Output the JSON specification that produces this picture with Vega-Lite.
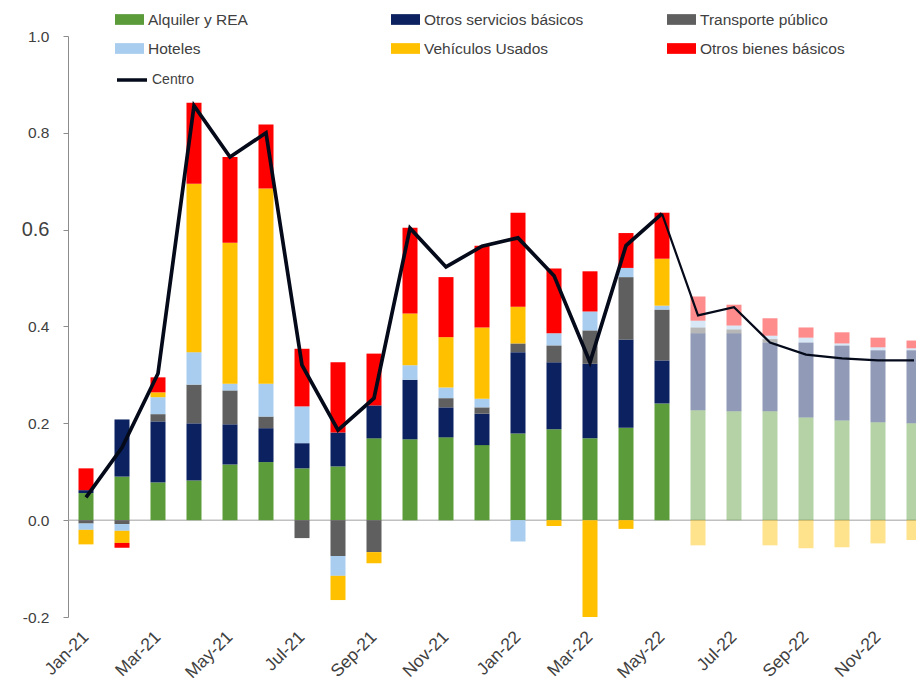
{
  "$schema": "https://vega.github.io/schema/vega-lite/v6.json",
  "width": 848,
  "height": 581,
  "autosize": {"type": "none"},
  "padding": {"left": 68, "top": 36, "right": 0, "bottom": 71},
  "background": "white",
  "config": {"view": {"stroke": null}, "font": "Liberation Sans"},
  "datasets": {
    "orden": [
      {"componente": "Alquiler y REA", "orden": 1},
      {"componente": "Otros servicios básicos", "orden": 2},
      {"componente": "Transporte público", "orden": 3},
      {"componente": "Hoteles", "orden": 4},
      {"componente": "Vehículos Usados", "orden": 5},
      {"componente": "Otros bienes básicos", "orden": 6}
    ],
    "barras": [
      {"mes": "Jan-21", "componente": "Alquiler y REA", "valor": 0.056, "tipo": "Observado"},
      {"mes": "Jan-21", "componente": "Otros servicios básicos", "valor": 0.006, "tipo": "Observado"},
      {"mes": "Jan-21", "componente": "Otros bienes básicos", "valor": 0.045, "tipo": "Observado"},
      {"mes": "Jan-21", "componente": "Transporte público", "valor": -0.007, "tipo": "Observado"},
      {"mes": "Jan-21", "componente": "Hoteles", "valor": -0.013, "tipo": "Observado"},
      {"mes": "Jan-21", "componente": "Vehículos Usados", "valor": -0.03, "tipo": "Observado"},
      {"mes": "Feb-21", "componente": "Alquiler y REA", "valor": 0.09, "tipo": "Observado"},
      {"mes": "Feb-21", "componente": "Otros servicios básicos", "valor": 0.118, "tipo": "Observado"},
      {"mes": "Feb-21", "componente": "Transporte público", "valor": -0.008, "tipo": "Observado"},
      {"mes": "Feb-21", "componente": "Hoteles", "valor": -0.014, "tipo": "Observado"},
      {"mes": "Feb-21", "componente": "Vehículos Usados", "valor": -0.025, "tipo": "Observado"},
      {"mes": "Feb-21", "componente": "Otros bienes básicos", "valor": -0.01, "tipo": "Observado"},
      {"mes": "Mar-21", "componente": "Alquiler y REA", "valor": 0.078, "tipo": "Observado"},
      {"mes": "Mar-21", "componente": "Otros servicios básicos", "valor": 0.126, "tipo": "Observado"},
      {"mes": "Mar-21", "componente": "Transporte público", "valor": 0.015, "tipo": "Observado"},
      {"mes": "Mar-21", "componente": "Hoteles", "valor": 0.035, "tipo": "Observado"},
      {"mes": "Mar-21", "componente": "Vehículos Usados", "valor": 0.01, "tipo": "Observado"},
      {"mes": "Mar-21", "componente": "Otros bienes básicos", "valor": 0.031, "tipo": "Observado"},
      {"mes": "Apr-21", "componente": "Alquiler y REA", "valor": 0.082, "tipo": "Observado"},
      {"mes": "Apr-21", "componente": "Otros servicios básicos", "valor": 0.118, "tipo": "Observado"},
      {"mes": "Apr-21", "componente": "Transporte público", "valor": 0.08, "tipo": "Observado"},
      {"mes": "Apr-21", "componente": "Hoteles", "valor": 0.067, "tipo": "Observado"},
      {"mes": "Apr-21", "componente": "Vehículos Usados", "valor": 0.348, "tipo": "Observado"},
      {"mes": "Apr-21", "componente": "Otros bienes básicos", "valor": 0.167, "tipo": "Observado"},
      {"mes": "May-21", "componente": "Alquiler y REA", "valor": 0.115, "tipo": "Observado"},
      {"mes": "May-21", "componente": "Otros servicios básicos", "valor": 0.083, "tipo": "Observado"},
      {"mes": "May-21", "componente": "Transporte público", "valor": 0.07, "tipo": "Observado"},
      {"mes": "May-21", "componente": "Hoteles", "valor": 0.014, "tipo": "Observado"},
      {"mes": "May-21", "componente": "Vehículos Usados", "valor": 0.291, "tipo": "Observado"},
      {"mes": "May-21", "componente": "Otros bienes básicos", "valor": 0.177, "tipo": "Observado"},
      {"mes": "Jun-21", "componente": "Alquiler y REA", "valor": 0.12, "tipo": "Observado"},
      {"mes": "Jun-21", "componente": "Otros servicios básicos", "valor": 0.07, "tipo": "Observado"},
      {"mes": "Jun-21", "componente": "Transporte público", "valor": 0.024, "tipo": "Observado"},
      {"mes": "Jun-21", "componente": "Hoteles", "valor": 0.068, "tipo": "Observado"},
      {"mes": "Jun-21", "componente": "Vehículos Usados", "valor": 0.403, "tipo": "Observado"},
      {"mes": "Jun-21", "componente": "Otros bienes básicos", "valor": 0.132, "tipo": "Observado"},
      {"mes": "Jul-21", "componente": "Alquiler y REA", "valor": 0.107, "tipo": "Observado"},
      {"mes": "Jul-21", "componente": "Otros servicios básicos", "valor": 0.052, "tipo": "Observado"},
      {"mes": "Jul-21", "componente": "Hoteles", "valor": 0.076, "tipo": "Observado"},
      {"mes": "Jul-21", "componente": "Otros bienes básicos", "valor": 0.119, "tipo": "Observado"},
      {"mes": "Jul-21", "componente": "Transporte público", "valor": -0.037, "tipo": "Observado"},
      {"mes": "Aug-21", "componente": "Alquiler y REA", "valor": 0.111, "tipo": "Observado"},
      {"mes": "Aug-21", "componente": "Otros servicios básicos", "valor": 0.07, "tipo": "Observado"},
      {"mes": "Aug-21", "componente": "Otros bienes básicos", "valor": 0.145, "tipo": "Observado"},
      {"mes": "Aug-21", "componente": "Transporte público", "valor": -0.074, "tipo": "Observado"},
      {"mes": "Aug-21", "componente": "Hoteles", "valor": -0.041, "tipo": "Observado"},
      {"mes": "Aug-21", "componente": "Vehículos Usados", "valor": -0.05, "tipo": "Observado"},
      {"mes": "Sep-21", "componente": "Alquiler y REA", "valor": 0.169, "tipo": "Observado"},
      {"mes": "Sep-21", "componente": "Otros servicios básicos", "valor": 0.068, "tipo": "Observado"},
      {"mes": "Sep-21", "componente": "Otros bienes básicos", "valor": 0.107, "tipo": "Observado"},
      {"mes": "Sep-21", "componente": "Transporte público", "valor": -0.066, "tipo": "Observado"},
      {"mes": "Sep-21", "componente": "Vehículos Usados", "valor": -0.023, "tipo": "Observado"},
      {"mes": "Oct-21", "componente": "Alquiler y REA", "valor": 0.167, "tipo": "Observado"},
      {"mes": "Oct-21", "componente": "Otros servicios básicos", "valor": 0.123, "tipo": "Observado"},
      {"mes": "Oct-21", "componente": "Hoteles", "valor": 0.03, "tipo": "Observado"},
      {"mes": "Oct-21", "componente": "Vehículos Usados", "valor": 0.107, "tipo": "Observado"},
      {"mes": "Oct-21", "componente": "Otros bienes básicos", "valor": 0.177, "tipo": "Observado"},
      {"mes": "Nov-21", "componente": "Alquiler y REA", "valor": 0.171, "tipo": "Observado"},
      {"mes": "Nov-21", "componente": "Otros servicios básicos", "valor": 0.062, "tipo": "Observado"},
      {"mes": "Nov-21", "componente": "Transporte público", "valor": 0.019, "tipo": "Observado"},
      {"mes": "Nov-21", "componente": "Hoteles", "valor": 0.022, "tipo": "Observado"},
      {"mes": "Nov-21", "componente": "Vehículos Usados", "valor": 0.104, "tipo": "Observado"},
      {"mes": "Nov-21", "componente": "Otros bienes básicos", "valor": 0.124, "tipo": "Observado"},
      {"mes": "Dec-21", "componente": "Alquiler y REA", "valor": 0.155, "tipo": "Observado"},
      {"mes": "Dec-21", "componente": "Otros servicios básicos", "valor": 0.065, "tipo": "Observado"},
      {"mes": "Dec-21", "componente": "Transporte público", "valor": 0.013, "tipo": "Observado"},
      {"mes": "Dec-21", "componente": "Hoteles", "valor": 0.018, "tipo": "Observado"},
      {"mes": "Dec-21", "componente": "Vehículos Usados", "valor": 0.147, "tipo": "Observado"},
      {"mes": "Dec-21", "componente": "Otros bienes básicos", "valor": 0.169, "tipo": "Observado"},
      {"mes": "Jan-22", "componente": "Alquiler y REA", "valor": 0.179, "tipo": "Observado"},
      {"mes": "Jan-22", "componente": "Otros servicios básicos", "valor": 0.168, "tipo": "Observado"},
      {"mes": "Jan-22", "componente": "Transporte público", "valor": 0.018, "tipo": "Observado"},
      {"mes": "Jan-22", "componente": "Vehículos Usados", "valor": 0.076, "tipo": "Observado"},
      {"mes": "Jan-22", "componente": "Otros bienes básicos", "valor": 0.194, "tipo": "Observado"},
      {"mes": "Jan-22", "componente": "Hoteles", "valor": -0.044, "tipo": "Observado"},
      {"mes": "Feb-22", "componente": "Alquiler y REA", "valor": 0.188, "tipo": "Observado"},
      {"mes": "Feb-22", "componente": "Otros servicios básicos", "valor": 0.138, "tipo": "Observado"},
      {"mes": "Feb-22", "componente": "Transporte público", "valor": 0.035, "tipo": "Observado"},
      {"mes": "Feb-22", "componente": "Hoteles", "valor": 0.025, "tipo": "Observado"},
      {"mes": "Feb-22", "componente": "Otros bienes básicos", "valor": 0.134, "tipo": "Observado"},
      {"mes": "Feb-22", "componente": "Vehículos Usados", "valor": -0.012, "tipo": "Observado"},
      {"mes": "Mar-22", "componente": "Alquiler y REA", "valor": 0.169, "tipo": "Observado"},
      {"mes": "Mar-22", "componente": "Otros servicios básicos", "valor": 0.154, "tipo": "Observado"},
      {"mes": "Mar-22", "componente": "Transporte público", "valor": 0.069, "tipo": "Observado"},
      {"mes": "Mar-22", "componente": "Hoteles", "valor": 0.039, "tipo": "Observado"},
      {"mes": "Mar-22", "componente": "Otros bienes básicos", "valor": 0.083, "tipo": "Observado"},
      {"mes": "Mar-22", "componente": "Vehículos Usados", "valor": -0.2, "tipo": "Observado"},
      {"mes": "Apr-22", "componente": "Alquiler y REA", "valor": 0.191, "tipo": "Observado"},
      {"mes": "Apr-22", "componente": "Otros servicios básicos", "valor": 0.182, "tipo": "Observado"},
      {"mes": "Apr-22", "componente": "Transporte público", "valor": 0.129, "tipo": "Observado"},
      {"mes": "Apr-22", "componente": "Hoteles", "valor": 0.019, "tipo": "Observado"},
      {"mes": "Apr-22", "componente": "Otros bienes básicos", "valor": 0.072, "tipo": "Observado"},
      {"mes": "Apr-22", "componente": "Vehículos Usados", "valor": -0.018, "tipo": "Observado"},
      {"mes": "May-22", "componente": "Alquiler y REA", "valor": 0.241, "tipo": "Observado"},
      {"mes": "May-22", "componente": "Otros servicios básicos", "valor": 0.089, "tipo": "Observado"},
      {"mes": "May-22", "componente": "Transporte público", "valor": 0.105, "tipo": "Observado"},
      {"mes": "May-22", "componente": "Hoteles", "valor": 0.008, "tipo": "Observado"},
      {"mes": "May-22", "componente": "Vehículos Usados", "valor": 0.097, "tipo": "Observado"},
      {"mes": "May-22", "componente": "Otros bienes básicos", "valor": 0.095, "tipo": "Observado"},
      {"mes": "Jun-22", "componente": "Alquiler y REA", "valor": 0.227, "tipo": "Proyección"},
      {"mes": "Jun-22", "componente": "Otros servicios básicos", "valor": 0.159, "tipo": "Proyección"},
      {"mes": "Jun-22", "componente": "Transporte público", "valor": 0.012, "tipo": "Proyección"},
      {"mes": "Jun-22", "componente": "Hoteles", "valor": 0.014, "tipo": "Proyección"},
      {"mes": "Jun-22", "componente": "Otros bienes básicos", "valor": 0.05, "tipo": "Proyección"},
      {"mes": "Jun-22", "componente": "Vehículos Usados", "valor": -0.052, "tipo": "Proyección"},
      {"mes": "Jul-22", "componente": "Alquiler y REA", "valor": 0.225, "tipo": "Proyección"},
      {"mes": "Jul-22", "componente": "Otros servicios básicos", "valor": 0.161, "tipo": "Proyección"},
      {"mes": "Jul-22", "componente": "Transporte público", "valor": 0.008, "tipo": "Proyección"},
      {"mes": "Jul-22", "componente": "Hoteles", "valor": 0.008, "tipo": "Proyección"},
      {"mes": "Jul-22", "componente": "Otros bienes básicos", "valor": 0.043, "tipo": "Proyección"},
      {"mes": "Aug-22", "componente": "Alquiler y REA", "valor": 0.225, "tipo": "Proyección"},
      {"mes": "Aug-22", "componente": "Otros servicios básicos", "valor": 0.142, "tipo": "Proyección"},
      {"mes": "Aug-22", "componente": "Transporte público", "valor": 0.007, "tipo": "Proyección"},
      {"mes": "Aug-22", "componente": "Hoteles", "valor": 0.007, "tipo": "Proyección"},
      {"mes": "Aug-22", "componente": "Otros bienes básicos", "valor": 0.036, "tipo": "Proyección"},
      {"mes": "Aug-22", "componente": "Vehículos Usados", "valor": -0.052, "tipo": "Proyección"},
      {"mes": "Sep-22", "componente": "Alquiler y REA", "valor": 0.212, "tipo": "Proyección"},
      {"mes": "Sep-22", "componente": "Otros servicios básicos", "valor": 0.155, "tipo": "Proyección"},
      {"mes": "Sep-22", "componente": "Hoteles", "valor": 0.01, "tipo": "Proyección"},
      {"mes": "Sep-22", "componente": "Otros bienes básicos", "valor": 0.021, "tipo": "Proyección"},
      {"mes": "Sep-22", "componente": "Vehículos Usados", "valor": -0.058, "tipo": "Proyección"},
      {"mes": "Oct-22", "componente": "Alquiler y REA", "valor": 0.206, "tipo": "Proyección"},
      {"mes": "Oct-22", "componente": "Otros servicios básicos", "valor": 0.155, "tipo": "Proyección"},
      {"mes": "Oct-22", "componente": "Hoteles", "valor": 0.004, "tipo": "Proyección"},
      {"mes": "Oct-22", "componente": "Otros bienes básicos", "valor": 0.023, "tipo": "Proyección"},
      {"mes": "Oct-22", "componente": "Vehículos Usados", "valor": -0.056, "tipo": "Proyección"},
      {"mes": "Nov-22", "componente": "Alquiler y REA", "valor": 0.202, "tipo": "Proyección"},
      {"mes": "Nov-22", "componente": "Otros servicios básicos", "valor": 0.149, "tipo": "Proyección"},
      {"mes": "Nov-22", "componente": "Hoteles", "valor": 0.006, "tipo": "Proyección"},
      {"mes": "Nov-22", "componente": "Otros bienes básicos", "valor": 0.02, "tipo": "Proyección"},
      {"mes": "Nov-22", "componente": "Vehículos Usados", "valor": -0.048, "tipo": "Proyección"},
      {"mes": "Dec-22", "componente": "Alquiler y REA", "valor": 0.2, "tipo": "Proyección"},
      {"mes": "Dec-22", "componente": "Otros servicios básicos", "valor": 0.151, "tipo": "Proyección"},
      {"mes": "Dec-22", "componente": "Hoteles", "valor": 0.004, "tipo": "Proyección"},
      {"mes": "Dec-22", "componente": "Otros bienes básicos", "valor": 0.016, "tipo": "Proyección"},
      {"mes": "Dec-22", "componente": "Vehículos Usados", "valor": -0.041, "tipo": "Proyección"}
    ],
    "centro": [
      {"mes": "Jan-21", "centro": 0.047, "tramo": "Observado"},
      {"mes": "Feb-21", "centro": 0.15, "tramo": "Observado"},
      {"mes": "Mar-21", "centro": 0.303, "tramo": "Observado"},
      {"mes": "Apr-21", "centro": 0.856, "tramo": "Observado"},
      {"mes": "May-21", "centro": 0.75, "tramo": "Observado"},
      {"mes": "Jun-21", "centro": 0.8, "tramo": "Observado"},
      {"mes": "Jul-21", "centro": 0.32, "tramo": "Observado"},
      {"mes": "Aug-21", "centro": 0.186, "tramo": "Observado"},
      {"mes": "Sep-21", "centro": 0.252, "tramo": "Observado"},
      {"mes": "Oct-21", "centro": 0.603, "tramo": "Observado"},
      {"mes": "Nov-21", "centro": 0.523, "tramo": "Observado"},
      {"mes": "Dec-21", "centro": 0.566, "tramo": "Observado"},
      {"mes": "Jan-22", "centro": 0.583, "tramo": "Observado"},
      {"mes": "Feb-22", "centro": 0.505, "tramo": "Observado"},
      {"mes": "Mar-22", "centro": 0.326, "tramo": "Observado"},
      {"mes": "Apr-22", "centro": 0.567, "tramo": "Observado"},
      {"mes": "May-22", "centro": 0.633, "tramo": "Observado"},
      {"mes": "May-22", "centro": 0.633, "tramo": "Proyección"},
      {"mes": "Jun-22", "centro": 0.423, "tramo": "Proyección"},
      {"mes": "Jul-22", "centro": 0.44, "tramo": "Proyección"},
      {"mes": "Aug-22", "centro": 0.367, "tramo": "Proyección"},
      {"mes": "Sep-22", "centro": 0.342, "tramo": "Proyección"},
      {"mes": "Oct-22", "centro": 0.334, "tramo": "Proyección"},
      {"mes": "Nov-22", "centro": 0.33, "tramo": "Proyección"},
      {"mes": "Dec-22", "centro": 0.33, "tramo": "Proyección"}
    ]
  },
  "layer": [
    {
      "data": {"values": [{}]},
      "mark": {"type": "rule", "color": "#a0a0a0", "strokeWidth": 1},
      "encoding": {"y": {"datum": 0, "type": "quantitative"}}
    },
    {
      "data": {"name": "barras"},
      "transform": [
        {"lookup": "componente", "from": {"data": {"name": "orden"}, "key": "componente", "fields": ["orden"]}}
      ],
      "mark": {"type": "bar", "width": 15, "clip": true},
      "encoding": {
        "x": {
          "field": "mes", "type": "ordinal", "sort": null,
          "scale": {"domain": ["Jan-21","Feb-21","Mar-21","Apr-21","May-21","Jun-21","Jul-21","Aug-21","Sep-21","Oct-21","Nov-21","Dec-21","Jan-22","Feb-22","Mar-22","Apr-22","May-22","Jun-22","Jul-22","Aug-22","Sep-22","Oct-22","Nov-22","Dec-22"], "range": [0, 864]},
          "axis": {
            "title": null, "domain": false, "ticks": false,
            "values": ["Jan-21","Mar-21","May-21","Jul-21","Sep-21","Nov-21","Jan-22","Mar-22","May-22","Jul-22","Sep-22","Nov-22"],
            "labelAngle": -45, "labelAlign": "right", "labelBaseline": "middle",
            "labelFontSize": 17.5, "labelColor": "#404040", "labelPadding": 17
          }
        },
        "y": {
          "field": "valor", "type": "quantitative", "stack": "zero",
          "scale": {"domain": [-0.2, 1.0], "nice": false, "zero": false},
          "axis": {
            "title": null, "grid": false,
            "values": [-0.2, 0, 0.2, 0.4, 0.6, 0.8, 1.0],
            "labelExpr": "datum.value < 0 ? '-0.2' : format(datum.value, '.1f')",
            "labelFontSize": {"condition": {"test": "abs(datum.value - 0.6) < 0.001", "value": 20}, "value": 15.5},
            "labelColor": "#404040", "labelPadding": 14,
            "domainColor": "#8c8c8c", "tickColor": "#8c8c8c", "tickSize": 5
          }
        },
        "order": {"field": "orden", "type": "quantitative", "sort": "ascending"},
        "color": {
          "field": "componente", "type": "nominal",
          "scale": {
            "domain": ["Alquiler y REA","Otros servicios básicos","Transporte público","Hoteles","Vehículos Usados","Otros bienes básicos"],
            "range": ["#5b9b3a","#0b2160","#5f5f5f","#a8cdee","#ffc000","#ff0000"]
          },
          "legend": {
            "title": null, "orient": "none", "legendX": 47, "legendY": -31,
            "direction": "horizontal", "columns": 3, "gridAlign": "all",
            "columnPadding": 83, "rowPadding": 6, "padding": 0,
            "symbolType": "M-1,-0.37H1V0.37H-1Z", "symbolSize": 841, "symbolStrokeWidth": 0, "symbolOpacity": 1,
            "labelFontSize": 15.5, "labelColor": "#404040", "labelOffset": 4, "labelLimit": 300
          }
        },
        "opacity": {
          "field": "tipo", "type": "nominal",
          "scale": {"domain": ["Observado","Proyección"], "range": [1, 0.45]},
          "legend": null
        }
      }
    },
    {
      "data": {"name": "centro"},
      "mark": {"type": "line", "clip": true, "strokeJoin": "miter"},
      "encoding": {
        "x": {"field": "mes", "type": "ordinal", "sort": null},
        "y": {"field": "centro", "type": "quantitative"},
        "detail": {"field": "tramo", "type": "nominal"},
        "strokeWidth": {
          "field": "tramo", "type": "nominal",
          "scale": {"domain": ["Observado","Proyección"], "range": [3.7, 2.2]},
          "legend": null
        },
        "stroke": {
          "datum": "Centro", "type": "nominal",
          "scale": {"range": ["#050a1a"]},
          "legend": {
            "title": null, "orient": "none", "legendX": 47, "legendY": 27, "padding": 0,
            "symbolType": "stroke", "symbolSize": 900, "symbolStrokeWidth": 3.5,
            "labelFontSize": 14, "labelColor": "#404040", "labelOffset": 3
          }
        }
      }
    }
  ]
}
